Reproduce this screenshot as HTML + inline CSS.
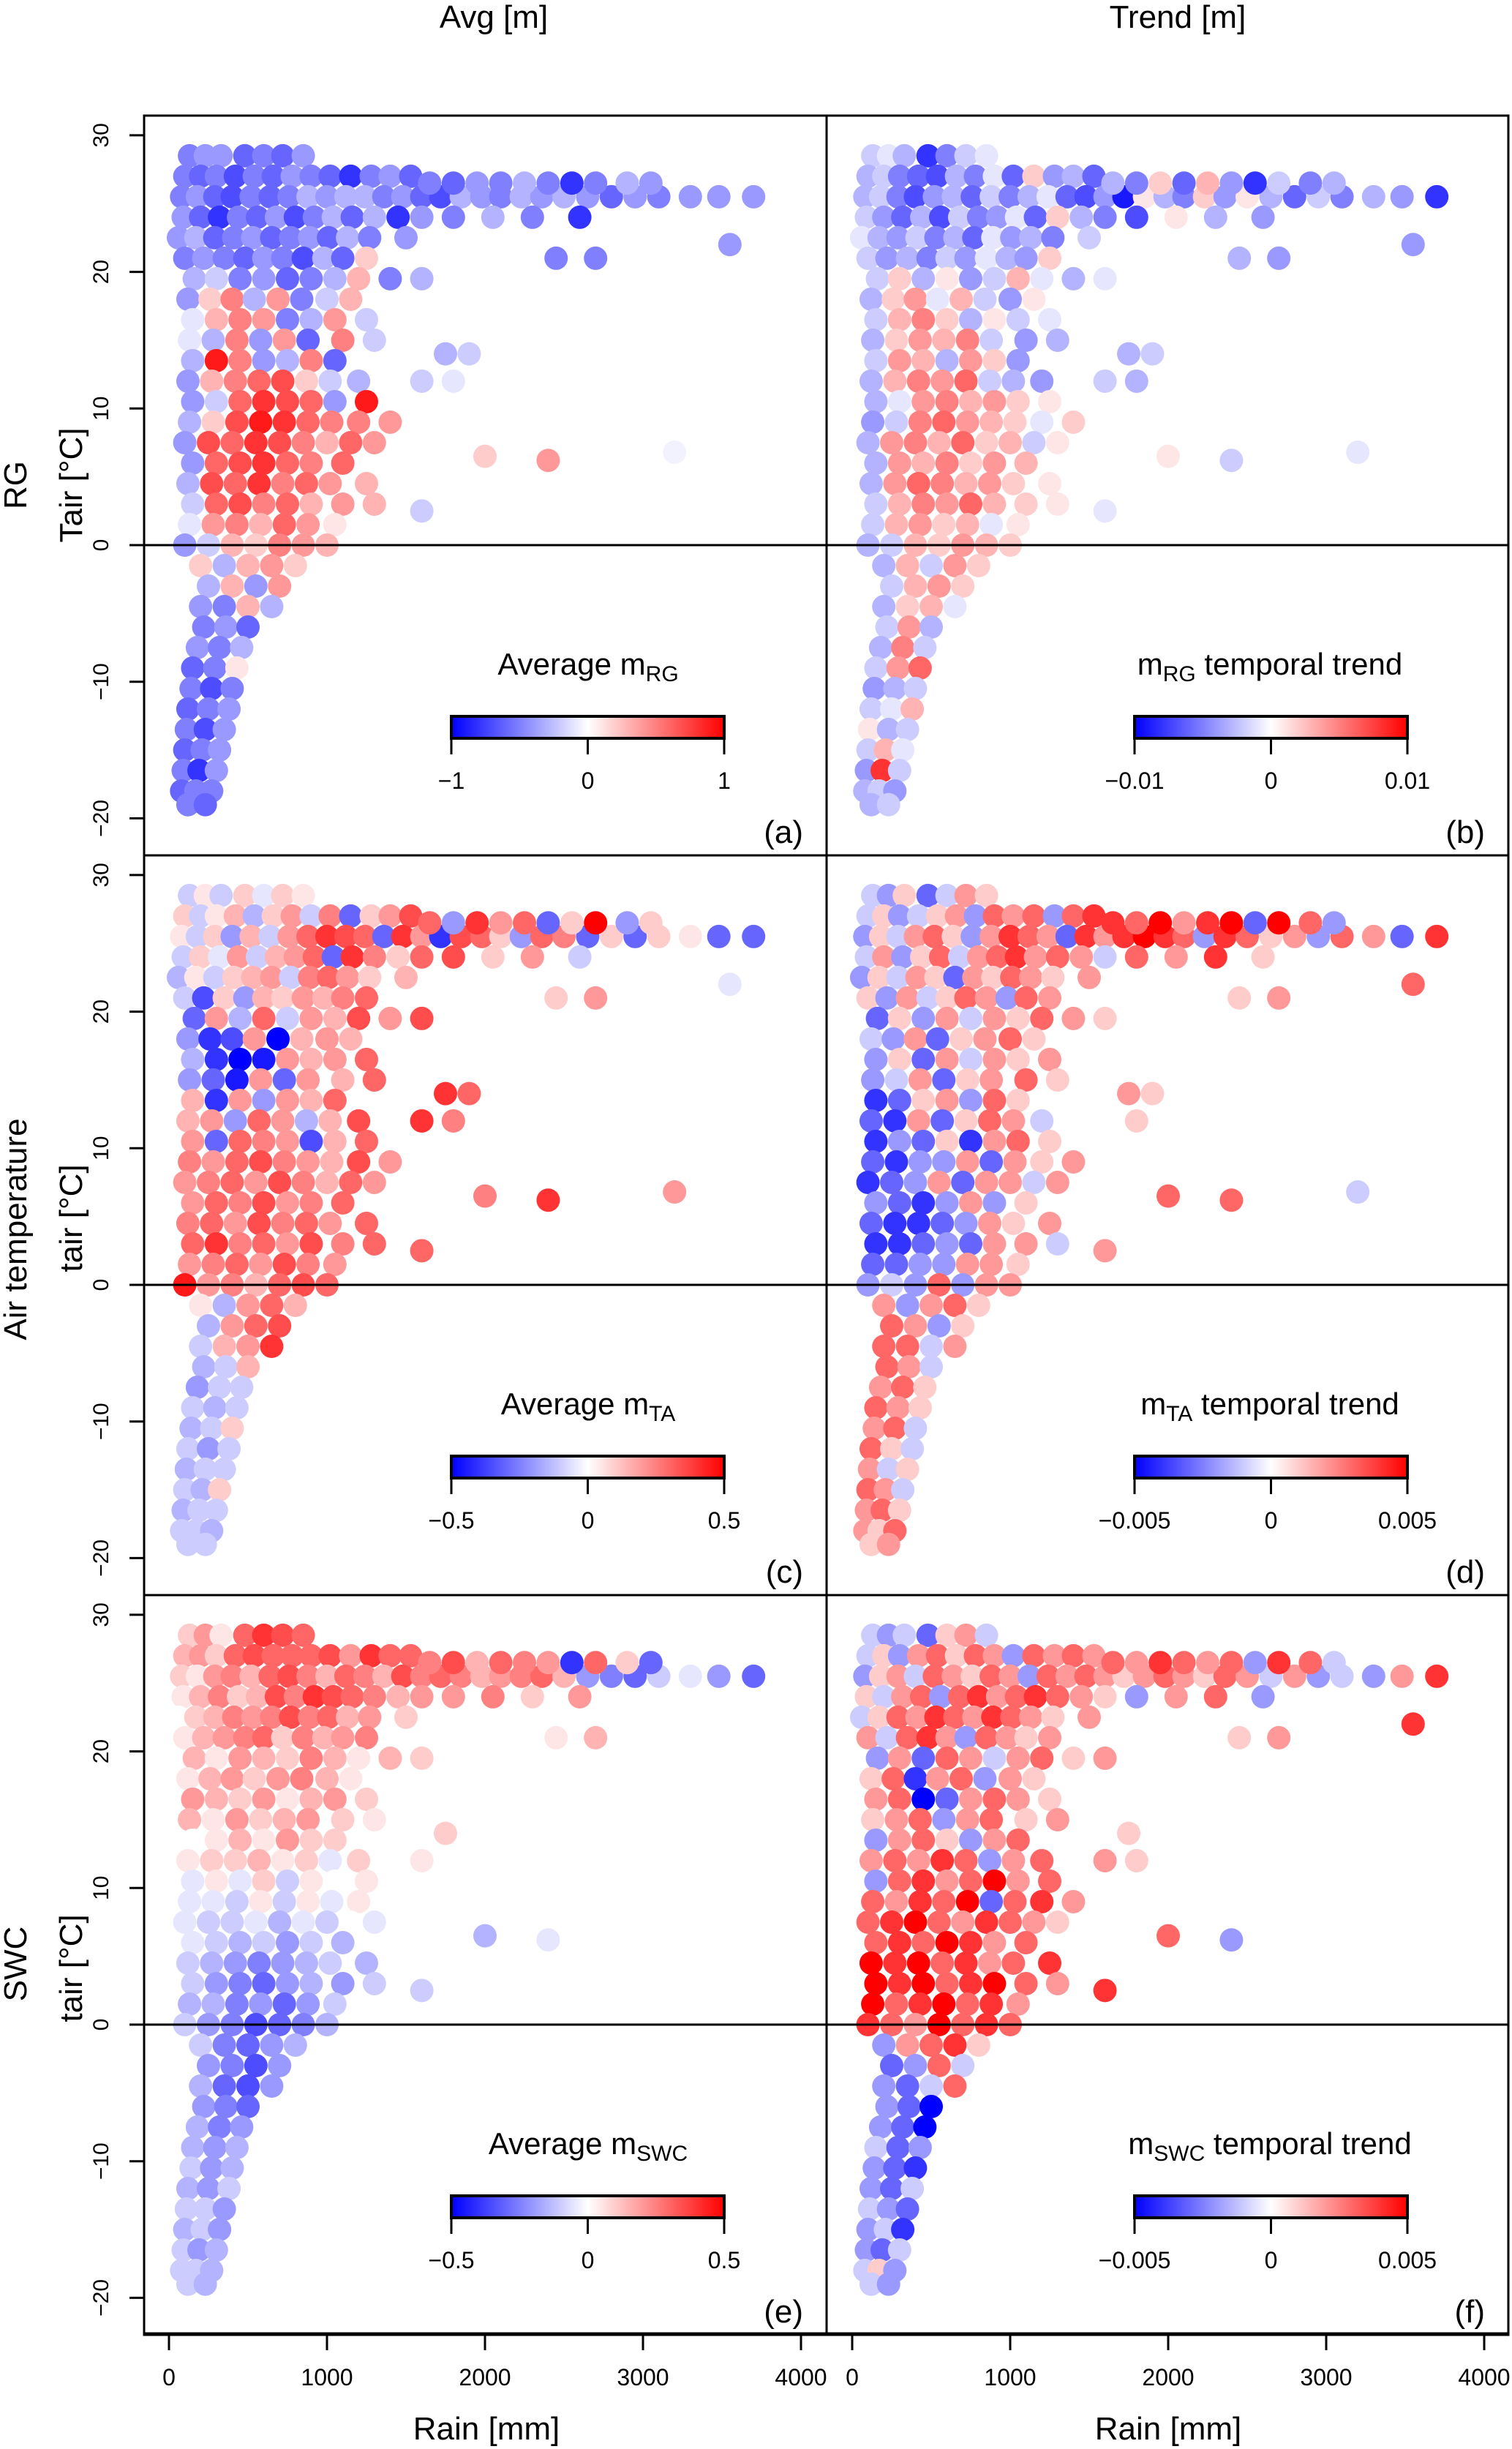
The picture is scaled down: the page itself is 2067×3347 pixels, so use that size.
<!DOCTYPE html>
<html><head><meta charset="utf-8"><style>
html,body{margin:0;padding:0;background:#fff}
svg{display:block}
text{font-family:"Liberation Sans",Arial,sans-serif;fill:#000}
</style></head><body>
<svg id="fig" xmlns="http://www.w3.org/2000/svg" width="2067" height="3347" viewBox="0 0 2067 3347">
</svg>
<script>
// station rain [mm]
const rain = [
130,230,330,480,600,720,850,
100,200,300,420,540,660,780,900,1020,1150,1280,1400,1530,
80,180,290,400,520,640,760,880,1000,1120,1240,1360,1480,1600,1720,1850,1980,2100,2230,2360,2500,2650,2800,2950,3100,3300,3480,3700,
1650,1800,1950,2100,2250,2400,2550,2700,2900,3050,
90,200,320,440,560,680,800,920,1040,1160,1300,1450,1600,1800,2050,2300,2600,
60,170,290,410,530,650,770,890,1010,1130,1270,1500,3550,
100,220,350,480,600,720,850,980,1100,1250,2450,2700,
160,300,450,600,750,900,1050,1200,1400,1600,
120,260,400,540,690,840,1000,1150,
150,300,450,600,750,900,1050,1250,
130,280,430,580,730,880,1100,1300,
150,300,450,600,750,900,1050,1750,1900,
120,270,420,570,720,870,1020,1200,1600,1800,
150,300,450,600,750,900,1050,1250,
130,280,430,580,730,880,1030,1200,1400,
100,250,400,550,700,850,1000,1150,1300,
150,300,450,600,750,900,1100,2000,2400,3200,
120,270,420,570,720,870,1020,1250,
150,300,450,600,750,900,1100,1300,1600,
130,280,430,580,730,880,1050,
100,250,400,550,700,850,1000,
200,350,500,650,800,
250,400,550,700,
200,350,500,650,
220,360,500,
180,320,460,
150,290,430,
140,270,400,
120,250,380,
110,230,350,
100,210,320,
90,190,300,
80,170,270,
120,230];
// station air temperature [°C]
const tair = [
28.5,28.5,28.5,28.5,28.5,28.5,28.5,
27,27,27,27,27,27,27,27,27,27,27,27,27,
25.5,25.5,25.5,25.5,25.5,25.5,25.5,25.5,25.5,25.5,25.5,25.5,25.5,25.5,25.5,25.5,25.5,25.5,25.5,25.5,25.5,25.5,25.5,25.5,25.5,25.5,25.5,25.5,
26.5,26.5,26.5,26.5,26.5,26.5,26.5,26.5,26.5,26.5,
24,24,24,24,24,24,24,24,24,24,24,24,24,24,24,24,24,
22.5,22.5,22.5,22.5,22.5,22.5,22.5,22.5,22.5,22.5,22.5,22.5,22,
21,21,21,21,21,21,21,21,21,21,21,21,
19.5,19.5,19.5,19.5,19.5,19.5,19.5,19.5,19.5,19.5,
18,18,18,18,18,18,18,18,
16.5,16.5,16.5,16.5,16.5,16.5,16.5,16.5,
15,15,15,15,15,15,15,15,
13.5,13.5,13.5,13.5,13.5,13.5,13.5,14,14,
12,12,12,12,12,12,12,12,12,12,
10.5,10.5,10.5,10.5,10.5,10.5,10.5,10.5,
9,9,9,9,9,9,9,9,9,
7.5,7.5,7.5,7.5,7.5,7.5,7.5,7.5,7.5,
6,6,6,6,6,6,6,6.5,6.2,6.8,
4.5,4.5,4.5,4.5,4.5,4.5,4.5,4.5,
3,3,3,3,3,3,3,3,2.5,
1.5,1.5,1.5,1.5,1.5,1.5,1.5,
0,0,0,0,0,0,0,
-1.5,-1.5,-1.5,-1.5,-1.5,
-3,-3,-3,-3,
-4.5,-4.5,-4.5,-4.5,
-6,-6,-6,
-7.5,-7.5,-7.5,
-9,-9,-9,
-10.5,-10.5,-10.5,
-12,-12,-12,
-13.5,-13.5,-13.5,
-15,-15,-15,
-16.5,-16.5,-16.5,
-18,-18,-18,
-19,-19];
// (a) average m_RG
const valsA = [
-0.5,-0.4,-0.4,-0.6,-0.5,-0.6,-0.4,
-0.5,-0.6,-0.5,-0.7,-0.5,-0.6,-0.4,-0.5,-0.6,-0.8,-0.5,-0.4,-0.6,
-0.5,-0.4,-0.6,-0.7,-0.5,-0.6,-0.5,-0.3,-0.4,-0.3,-0.3,-0.5,-0.4,-0.6,-0.7,-0.3,-0.4,-0.5,-0.3,-0.4,-0.3,-0.4,-0.6,-0.4,-0.5,-0.4,-0.4,-0.4,
-0.5,-0.6,-0.4,-0.5,-0.3,-0.5,-0.8,-0.5,-0.3,-0.4,
-0.4,-0.6,-0.8,-0.5,-0.6,-0.4,-0.7,-0.5,-0.3,-0.6,-0.3,-0.8,-0.4,-0.5,-0.3,-0.5,-0.8,
-0.4,-0.3,-0.6,-0.5,-0.4,-0.6,-0.5,-0.4,-0.6,-0.3,-0.5,-0.4,-0.4,
-0.5,-0.4,-0.5,-0.6,-0.4,-0.5,-0.7,-0.3,-0.6,0.2,-0.5,-0.5,
-0.3,-0.2,-0.5,-0.4,-0.6,-0.5,-0.3,0.3,-0.5,-0.3,
-0.4,0.2,0.5,-0.3,0.4,-0.5,-0.2,0.3,
-0.1,0.3,0.5,0.4,-0.5,-0.3,0.4,-0.2,
-0.1,-0.3,0.5,-0.4,0.4,-0.6,0.5,-0.2,
-0.3,0.9,0.5,-0.4,-0.3,0.5,-0.6,-0.3,-0.2,
-0.4,0.3,0.5,0.6,0.7,0.2,-0.2,-0.3,-0.2,-0.1,
-0.4,-0.2,0.6,0.8,0.7,0.6,-0.4,0.9,
-0.3,0.2,0.7,0.9,0.8,0.6,0.5,0.5,0.4,
-0.4,0.7,0.6,0.8,0.7,0.5,0.3,0.6,0.4,
-0.4,0.6,0.7,0.8,0.6,0.5,0.6,0.2,0.4,-0.05,
-0.3,0.7,0.6,0.8,0.5,0.6,0.4,0.3,
-0.2,0.6,0.7,0.5,0.6,0.3,0.4,0.3,-0.2,
-0.1,0.4,0.5,0.3,0.6,0.4,0.1,
-0.4,-0.2,0.3,0.2,0.5,0.4,0.3,
0.2,-0.3,0.3,0.4,0.2,
-0.3,0.3,-0.4,0.4,
-0.4,-0.5,0.3,-0.3,
-0.5,-0.4,-0.6,
-0.4,-0.5,-0.3,
-0.6,-0.5,0.1,
-0.5,-0.7,-0.5,
-0.6,-0.5,-0.4,
-0.5,-0.7,-0.4,
-0.6,-0.5,-0.4,
-0.5,-0.8,-0.4,
-0.6,-0.5,-0.5,
-0.5,-0.6];
// (b) m_RG temporal trend, units of 1e-3
const valsB = [
-2,-1,-3,-8,-5,-2,-1,
-3,-2,-5,-6,-7,-3,-5,-1,-6,2,-4,-3,-6,
-3,-2,-5,-7,-4,-3,-6,-2,-5,-3,-1,-6,-7,-4,-9,1,-3,-5,2,-4,1,-3,-6,-2,-5,-3,-4,-8,
-3,-5,2,-6,3,-4,-8,-2,-5,-3,
-2,-4,-6,-3,-7,-2,-5,-4,-1,-6,2,-3,-5,-7,1,-3,-4,
-1,-3,-4,-2,-5,-3,-6,-1,-4,-3,-5,-2,-4,
-2,-4,-3,-5,-2,-4,-1,-3,-4,2,-3,-4,
-2,2,-3,1,-4,-2,3,-1,-3,-1,
-3,2,4,-1,3,-2,-4,1,
-2,3,5,2,-3,1,-2,-1,
-3,2,4,3,5,-2,-4,-3,
-2,4,3,-3,4,2,-4,-3,-2,
-3,3,5,4,6,-2,-3,-4,-2,-3,
-3,-1,4,5,3,4,2,1,
-4,-2,5,6,4,3,2,-1,2,
-3,4,5,3,6,2,3,-2,1,
-3,4,3,5,2,4,3,1,-2,-1,
-3,4,6,5,3,4,2,1,
-2,3,5,4,6,3,2,1,-1,
-2,3,4,2,3,-1,1,
-3,-2,3,2,4,3,2,
-3,3,-2,4,2,
-2,3,4,2,
-3,2,3,-1,
-2,4,-3,
-3,5,-2,
-2,4,6,
-4,-3,-2,
-2,-1,3,
1,-3,-2,
-2,3,-1,
-4,8,-2,
-3,-2,-4,
-3,-2];
// (c) average m_TA
const valsC = [
-0.1,0.05,-0.1,0.1,-0.05,0.1,0.05,
0.1,-0.1,0.05,0.15,-0.15,0.1,0.2,-0.1,0.25,-0.3,0.1,0.2,0.35,
0.05,-0.1,0.1,-0.2,0.15,-0.1,0.2,0.3,0.4,0.35,0.3,-0.3,0.4,0.2,-0.4,0.35,0.3,0.1,-0.2,0.3,0.25,-0.3,0.1,-0.3,0.1,0.05,-0.3,-0.3,
0.3,-0.2,0.4,0.2,0.3,-0.3,0.1,0.5,-0.2,0.1,
-0.1,0.1,-0.05,0.2,-0.1,0.15,0.2,0.3,-0.3,0.4,0.25,0.1,0.3,0.35,0.1,0.2,-0.1,
-0.15,0.05,-0.1,0.1,0.15,0.2,-0.1,0.25,0.3,0.2,0.1,0.15,-0.05,
-0.1,-0.35,0.1,-0.2,0.15,0.1,0.2,0.15,0.25,0.3,0.1,0.2,
-0.3,0.2,-0.15,0.3,-0.1,0.2,0.15,0.35,0.2,0.35,
-0.2,-0.4,-0.35,0.2,-0.5,0.15,0.2,0.15,
-0.15,-0.4,-0.5,-0.45,0.2,0.15,0.2,0.3,
-0.2,-0.3,-0.45,0.2,-0.3,0.2,0.15,0.3,
0.15,-0.4,0.2,-0.2,0.2,0.15,0.3,0.4,0.3,
0.15,0.2,-0.2,0.3,0.2,-0.15,0.15,0.35,0.4,0.25,
0.2,-0.3,0.3,0.25,0.2,-0.35,0.15,0.3,
0.25,0.2,0.3,0.35,0.25,0.2,0.15,0.35,0.2,
0.2,0.25,0.3,0.2,0.35,0.25,0.15,0.3,0.2,
0.2,0.3,0.25,0.35,0.2,0.25,0.3,0.25,0.4,0.2,
0.25,0.3,0.2,0.35,0.25,0.3,0.2,0.3,
0.3,0.4,0.25,0.3,0.2,0.35,0.25,0.3,0.3,
0.2,0.25,0.3,0.2,0.35,0.25,0.2,
0.45,0.2,0.25,0.15,0.3,0.35,0.3,
0.05,-0.15,0.2,0.3,0.15,
-0.15,0.2,0.3,0.35,
-0.1,0.15,0.2,0.4,
-0.15,-0.1,0.15,
-0.2,-0.1,-0.1,
-0.1,-0.15,-0.1,
-0.15,-0.1,0.1,
-0.1,-0.2,-0.1,
-0.15,-0.1,-0.1,
-0.1,-0.15,0.1,
-0.15,-0.1,-0.1,
-0.1,-0.1,-0.15,
-0.1,-0.1];
// (d) m_TA temporal trend, units of 1e-3
const valsD = [
-1,-2,1,-3,-1,2,1,
-1,1,-2,-1,1,2,-2,3,2,3,-2,3,4,
-2,1,-1,2,3,1,-2,2,4,3,2,-3,4,2,4,5,4,3,-2,4,3,1,2,-2,3,2,-3,4,
4,3,5,2,4,5,-3,5,3,-2,
-1,2,-2,1,3,-1,2,3,4,2,3,2,-1,3,2,4,1,
-2,1,-1,2,1,-3,2,1,3,2,1,2,3,
1,-2,2,-1,1,3,2,-2,3,2,1,2,
-3,1,-2,2,-1,2,1,3,2,1,
-1,-2,2,-3,1,2,3,1,
-2,1,-3,2,-1,2,1,2,
-2,-1,2,-3,1,2,3,1,
-4,-3,1,2,-2,3,1,2,1,
-3,-4,2,-3,1,3,2,-1,0,1,
-4,-2,-3,1,-4,2,3,1,
-3,-4,-2,-2,2,-3,2,1,2,
-4,-3,-2,2,-3,2,2,-1,2,
-2,-3,-4,-2,2,-2,1,3,3,-1,
-3,-4,-4,-3,-2,2,1,2,
-4,-4,-3,-2,-3,2,2,-1,2,
-3,-3,-2,-2,2,2,1,
-2,-1,-2,3,-2,2,2,
2,-2,2,3,1,
3,2,-2,1,
3,3,-1,2,
3,2,-1,
2,3,1,
3,2,1,
2,3,-1,
3,1,-1,
2,-1,1,
3,2,-1,
2,3,1,
2,1,3,
1,2];
// (e) average m_SWC
const valsE = [
0.1,0.2,0.05,0.3,0.4,0.35,0.3,
0.15,0.2,0.1,0.3,0.35,0.3,0.3,0.3,0.35,0.2,0.4,0.3,0.3,
0.1,0.05,0.2,0.25,0.15,0.3,0.35,0.25,0.15,0.3,0.25,0.15,0.35,0.25,0.3,0.25,0.15,0.2,0.25,0.3,0.15,-0.2,-0.25,-0.3,-0.1,-0.05,-0.2,-0.3,
0.25,0.35,0.15,0.3,0.25,0.2,-0.4,0.3,0.1,-0.3,
0.05,0.15,0.25,0.1,0.15,0.35,0.25,0.4,0.35,0.3,0.25,0.15,0.2,0.2,0.25,0.1,0.2,
0.0,0.1,0.15,0.25,0.2,0.25,0.35,0.25,0.3,0.15,0.2,0.1,0.0,
0.05,0.15,0.2,0.25,0.3,0.1,0.25,0.15,0.2,0.25,0.05,0.15,
0.15,0.05,0.2,0.15,0.1,0.25,0.15,0.05,0.15,0.1,
0.05,0.15,0.2,0.1,0.2,0.25,0.15,0.05,
0.2,0.15,0.1,0.2,0.05,0.15,0.2,0.1,
0.15,0.05,0.2,0.1,0.15,0.2,0.1,0.05,
0.0,0.05,0.15,0.05,0.2,0.1,0.1,0.1,0.0,
0.05,0.1,0.1,0.15,0.05,0.1,-0.05,0.1,0.05,0.0,
-0.05,0.05,-0.05,0.1,-0.1,0.05,0.0,0.05,
-0.05,-0.05,-0.1,0.05,-0.1,0.05,-0.05,0.05,0.0,
-0.05,-0.1,-0.1,-0.05,-0.15,-0.05,-0.1,0.0,-0.05,
-0.05,-0.1,-0.15,-0.1,-0.2,-0.1,-0.15,-0.15,-0.05,0.0,
-0.1,-0.15,-0.2,-0.25,-0.2,-0.15,-0.1,-0.15,
-0.1,-0.2,-0.25,-0.3,-0.2,-0.15,-0.2,-0.1,-0.1,
-0.15,-0.15,-0.25,-0.2,-0.3,-0.2,-0.1,
-0.1,-0.2,-0.25,-0.35,-0.3,-0.25,-0.15,
-0.1,-0.25,-0.3,-0.2,-0.15,
-0.2,-0.25,-0.35,-0.2,
-0.15,-0.3,-0.35,-0.2,
-0.2,-0.25,-0.3,
-0.15,-0.25,-0.2,
-0.15,-0.2,-0.15,
-0.1,-0.2,-0.15,
-0.15,-0.2,-0.1,
-0.1,-0.1,-0.2,
-0.15,-0.1,-0.2,
-0.1,-0.2,-0.15,
-0.1,-0.1,-0.15,
-0.1,-0.15];
// (f) m_SWC temporal trend, units of 1e-3
const valsF = [
-1,-2,-1,-3,1,2,-1,
-1,1,-2,2,3,1,3,2,-2,3,2,3,2,
-2,1,2,-1,3,2,1,3,2,-2,3,2,3,2,1,2,3,2,1,3,2,-1,2,-2,-1,-2,2,4,
3,2,4,3,2,3,-2,4,3,-1,
1,-1,2,3,-2,3,4,2,3,4,3,2,1,-2,2,3,-2,
-1,1,3,2,4,3,2,4,3,2,1,2,4,
2,-1,3,4,2,-2,3,2,1,2,1,2,
-2,2,-3,3,2,-1,2,3,1,2,
1,3,-4,2,3,-2,2,1,
2,3,-5,-3,2,3,2,1,
1,2,3,-2,2,3,1,2,
-2,2,3,1,-2,2,3,1,0,
2,3,2,4,3,-2,2,3,2,1,
-2,3,4,2,3,5,2,3,
3,2,4,3,5,-3,3,4,2,
3,4,5,3,2,4,3,2,1,
3,4,3,5,4,2,3,3,-2,0,
5,4,6,3,4,2,3,4,
6,4,5,3,4,5,3,2,4,
5,3,4,6,3,4,2,
4,3,2,5,3,4,3,
-2,2,3,4,1,
-3,-2,3,-1,
-2,-3,-1,3,
-2,-3,-5,
-2,-3,-8,
-1,-3,-2,
-2,-3,-4,
-2,-3,-1,
-1,-2,-3,
-2,-1,-4,
-2,-3,-1,
-1,1,-2,
-1,-2];
const yTicks = [30,20,10,0,-10,-20];
const yTickLabels = ["30","20","10","0","\u221210","\u221220"];
const xTicks = [0,1000,2000,3000,4000];
const xTickLabels = ["0","1000","2000","3000","4000"];
const cbTicksA = ["\u22121","0","1"];
const cbTicksB = ["\u22120.01","0","0.01"];
const cbTicksC = ["\u22120.5","0","0.5"];
const cbTicksD = ["\u22120.005","0","0.005"];

const NS="http://www.w3.org/2000/svg";
const svg=document.getElementById('fig');
function mk(tag,attrs,parent){const e=document.createElementNS(NS,tag);for(const k in attrs)e.setAttribute(k,attrs[k]);(parent||svg).appendChild(e);return e;}
function txt(s,attrs,parent){const e=mk('text',attrs,parent);e.textContent=s;return e;}
function col(t){t=Math.max(-1,Math.min(1,t));let r,g,b;if(t<0){r=g=Math.round(255*(1+t));b=255;}else{r=255;g=b=Math.round(255*(1-t));}return `rgb(${r},${g},${b})`;}

const top0=158,rowH=1011,ppd=18.67,ppmm=0.216;
const colX=[{l:197,r:1130,x0:231},{l:1130,r:2062,x0:1165}];
const panels=[
 {row:0,c:0,vals:valsA,max:1,title:["Average m","RG",""],ticks:cbTicksA,letter:"(a)"},
 {row:0,c:1,vals:valsB,max:10,title:["m","RG"," temporal trend"],ticks:cbTicksB,letter:"(b)"},
 {row:1,c:0,vals:valsC,max:0.5,title:["Average m","TA",""],ticks:cbTicksC,letter:"(c)"},
 {row:1,c:1,vals:valsD,max:5,title:["m","TA"," temporal trend"],ticks:cbTicksD,letter:"(d)"},
 {row:2,c:0,vals:valsE,max:0.5,title:["Average m","SWC",""],ticks:cbTicksC,letter:"(e)"},
 {row:2,c:1,vals:valsF,max:5,title:["m","SWC"," temporal trend"],ticks:cbTicksD,letter:"(f)"}];

const defs=mk('defs',{});
const gr=mk('linearGradient',{id:'cb',x1:0,x2:1,y1:0,y2:0},defs);
mk('stop',{offset:'0',"stop-color":'#0000ff'},gr);
mk('stop',{offset:'0.5',"stop-color":'#ffffff'},gr);
mk('stop',{offset:'1',"stop-color":'#ff0000'},gr);

panels.forEach((p,i)=>{
  const top=top0+p.row*rowH, bot=top+rowH, C=colX[p.c];
  const g=mk('g',{});
  
  
  const cp=mk('clipPath',{id:'cp'+i},defs);
  mk('rect',{x:C.l,y:top,width:C.r-C.l,height:rowH},cp);
  const pts=mk('g',{'clip-path':`url(#cp${i})`},g);
  
  
  const n=Math.min(rain.length,tair.length,p.vals.length);
  for(let k=0;k<n;k++){
    const cx=C.x0+rain[k]*ppmm, cy=top+587-tair[k]*ppd;
    const c=mk('ellipse',{cx:cx,cy:cy,rx:16,ry:16,fill:col(p.vals[k]/p.max)},pts);
    
    
  }
  const zl=mk('line',{x1:C.l-(p.c===0?20:0),x2:C.r,y1:top+587,y2:top+587,stroke:'#000','stroke-width':3},g);
  
  
  const cxT=p.c===0?804:1736;
  const t=txt('',{x:cxT,y:top+764,'font-size':42,'text-anchor':'middle'},g);
  
  
  const s1=mk('tspan',{},t);s1.textContent=p.title[0];
  const s2=mk('tspan',{'font-size':30,dy:9},t);s2.textContent=p.title[1];
  const s3=mk('tspan',{dy:-9},t);s3.textContent=p.title[2];
  const bx=p.c===0?617:1551, bw=373, by=top+821;
  const cb=mk('rect',{x:bx,y:by,width:bw,height:30,fill:'url(#cb)',stroke:'#000','stroke-width':4},g);
  
  
  p.ticks.forEach((lab,j)=>{
    const tx=bx+j*bw/2;
    const tk=mk('line',{x1:tx,x2:tx,y1:by+30,y2:by+52,stroke:'#000','stroke-width':3},g);
    
    
    const tl=txt(lab,{x:tx,y:top+920,'font-size':32,'text-anchor':'middle'},g);
    
    
  });
  const L=txt(p.letter,{x:C.r-32,y:top+994,'font-size':44,'text-anchor':'end'},g);
  
  
  const fr=mk('rect',{x:C.l,y:top,width:C.r-C.l,height:rowH,fill:'none',stroke:'#000','stroke-width':3},g);
  
  
  if(p.c===0){
    yTicks.forEach((v,j)=>{
      const y=top+587-v*ppd;
      const tk=mk('line',{x1:177,x2:197,y1:y,y2:y,stroke:'#000','stroke-width':3},g);
      
      
      const tl=txt(yTickLabels[j],{x:148,y:y,'font-size':30,'text-anchor':'middle',transform:`rotate(-90 148 ${y})`},g);
      
      
    });
  }
  if(p.row===2){
    xTicks.forEach((v,j)=>{
      const x=C.x0+v*ppmm;
      const tk=mk('line',{x1:x,x2:x,y1:bot,y2:bot+21,stroke:'#000','stroke-width':3},g);
      
      
      const tl=txt(xTickLabels[j],{x:x,y:bot+69,'font-size':32,'text-anchor':'middle'},g);
      
      
    });
  }
});
const bl=mk('line',{x1:197,x2:2062,y1:3190,y2:3190,stroke:'#000','stroke-width':5});


const labs=[
 ["Avg [m]",675,38,0,'column-title-avg'],["Trend [m]",1610,38,0,'column-title-trend'],
 ["Rain [mm]",665,3334,0,'x-axis-title-left'],["Rain [mm]",1597,3334,0,'x-axis-title-right'],
 ["RG",36,663,1,'row-label-rg'],["Tair [°C]",112,663,1,'y-axis-title-a'],
 ["Air temperature",36,1680,1,'row-label-air-temperature'],["tair [°C]",112,1665,1,'y-axis-title-c'],
 ["SWC",36,2684,1,'row-label-swc'],["tair [°C]",112,2690,1,'y-axis-title-e']];
labs.forEach(l=>{
  const a={x:l[1],y:l[2],'font-size':44,'text-anchor':'middle'};
  if(l[3])a.transform=`rotate(-90 ${l[1]} ${l[2]})`;
  const e=txt(l[0],a);
  
  
});
</script>
</body></html>
